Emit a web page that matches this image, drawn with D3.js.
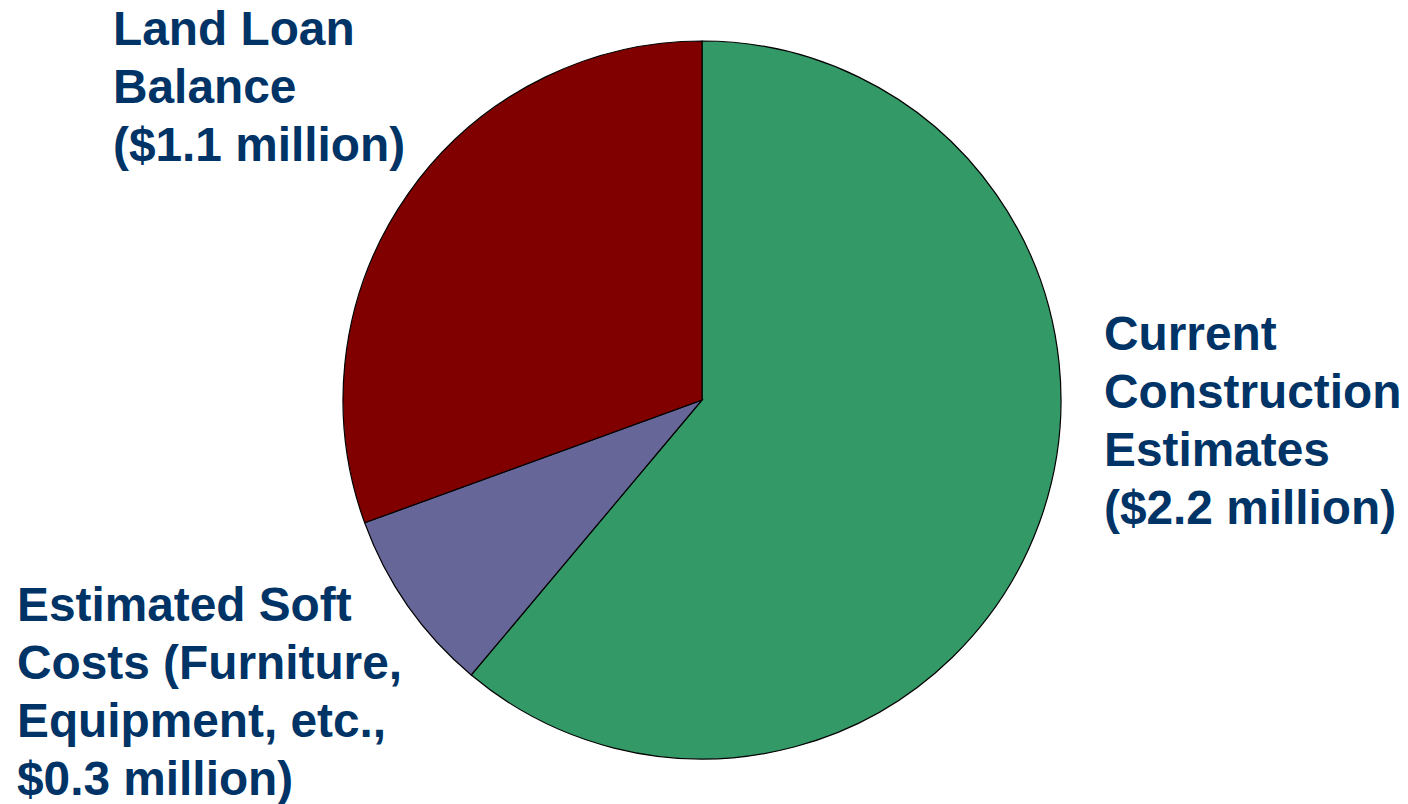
<!DOCTYPE html>
<html><head><meta charset="utf-8">
<script src="https://cdn.jsdelivr.net/npm/d3@7"></script>
<style>html,body{margin:0;padding:0;background:#fff;}svg{display:block;}</style>
</head><body>
<svg id="c" width="1408" height="804"></svg>
<script>
const categories = ["Current Construction Estimates", "Estimated Soft Costs", "Land Loan Balance"];
const values = [2.2, 0.3, 1.1];
const colors = ["#339966", "#666699", "#800000"];
const labelLines = [
  ["Current", "Construction", "Estimates", "($2.2 million)"],
  ["Estimated Soft", "Costs (Furniture,", "Equipment, etc.,", "$0.3 million)"],
  ["Land Loan", "Balance", "($1.1 million)"]
];

const svg = d3.select("#c");
const cx = 702, cy = 400, r = 359;
const pie = d3.pie().sort(null).value(d => d)(values);
const arc = d3.arc().innerRadius(0).outerRadius(r);
const g = svg.append("g").attr("transform", `translate(${cx},${cy})`);
g.selectAll("path").data(pie).join("path")
  .attr("d", arc)
  .attr("fill", (d, i) => colors[i])
  .attr("stroke", "#000")
  .attr("stroke-width", 1.2);

const labelPos = [
  {x: 1104, y: 350},
  {x: 17, y: 621},
  {x: 113, y: 45}
];
const lh = 58;
labelLines.forEach((lines, i) => {
  const t = svg.append("text")
    .attr("x", labelPos[i].x).attr("y", labelPos[i].y)
    .attr("fill", "#003366")
    .attr("font-family", "'Liberation Sans', Arial, Helvetica, sans-serif")
    .attr("font-weight", "bold")
    .attr("font-size", 47.8);
  lines.forEach((l, j) => {
    t.append("tspan").attr("x", labelPos[i].x).attr("y", labelPos[i].y + j * lh).text(l);
  });
});
</script>
</body></html>
